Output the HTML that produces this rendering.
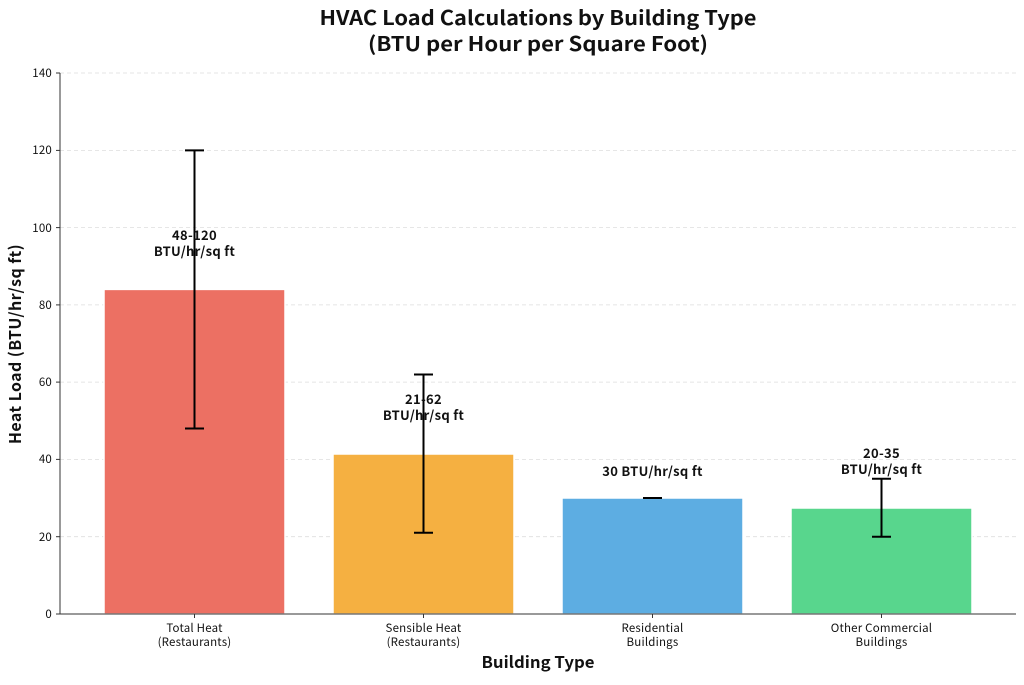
<!DOCTYPE html>
<html><head><meta charset="utf-8"><style>
body{margin:0;background:#fff;}
svg text{font-family:"Noto Sans CJK SC","DejaVu Sans","Liberation Sans",sans-serif;fill:#111;}
</style></head><body>
<svg width="1024" height="680" viewBox="0 0 1024 680" xmlns="http://www.w3.org/2000/svg">
<text x="538" y="25" font-size="20" font-weight="bold" text-anchor="middle" textLength="437" lengthAdjust="spacingAndGlyphs">HVAC Load Calculations by Building Type</text>
<text x="538" y="51" font-size="20" font-weight="bold" text-anchor="middle" textLength="340" lengthAdjust="spacingAndGlyphs">(BTU per Hour per Square Foot)</text>
<g stroke="#ddd" stroke-dasharray="4,3" stroke-width="0.8">
<line x1="60" x2="1016" y1="73" y2="73"/><line x1="60" x2="1016" y1="150.4" y2="150.4"/>
<line x1="60" x2="1016" y1="227.6" y2="227.6"/><line x1="60" x2="1016" y1="304.9" y2="304.9"/>
<line x1="60" x2="1016" y1="382.1" y2="382.1"/><line x1="60" x2="1016" y1="459.4" y2="459.4"/>
<line x1="60" x2="1016" y1="536.7" y2="536.7"/>
</g>
<g stroke="#fff" stroke-width="1.5">
<rect x="104" y="289.4" width="181" height="324.6" fill="#ec7063"/>
<rect x="333" y="454" width="181" height="160" fill="#f5b041"/>
<rect x="562" y="498" width="181" height="116" fill="#5dade2"/>
<rect x="791" y="508" width="181" height="106" fill="#58d68d"/>
</g>
<g stroke="#000" stroke-width="2">
<line x1="194.5" x2="194.5" y1="150.4" y2="428.5"/><line x1="185" x2="204" y1="150.4" y2="150.4"/><line x1="185" x2="204" y1="428.5" y2="428.5"/>
<line x1="423.5" x2="423.5" y1="374.5" y2="532.8"/><line x1="414" x2="433" y1="374.5" y2="374.5"/><line x1="414" x2="433" y1="532.8" y2="532.8"/>
<line x1="643" x2="662" y1="498" y2="498"/>
<line x1="881.5" x2="881.5" y1="478.8" y2="536.7"/><line x1="872" x2="891" y1="478.8" y2="478.8"/><line x1="872" x2="891" y1="536.7" y2="536.7"/>
</g>
<g font-size="13" font-weight="bold" text-anchor="middle" letter-spacing="0.3">
<text x="194.5" y="240">48-120</text><text x="194.5" y="256">BTU/hr/sq ft</text>
<text x="423.5" y="404">21-62</text><text x="423.5" y="420">BTU/hr/sq ft</text>
<text x="652.5" y="476">30 BTU/hr/sq ft</text>
<text x="881.5" y="458">20-35</text><text x="881.5" y="474">BTU/hr/sq ft</text>
</g>
<g stroke="#333" stroke-width="1">
<line x1="60" x2="60" y1="73" y2="614"/><line x1="60" x2="1016" y1="614" y2="614"/>
<line x1="56" x2="60" y1="73" y2="73"/><line x1="56" x2="60" y1="150.4" y2="150.4"/><line x1="56" x2="60" y1="227.6" y2="227.6"/>
<line x1="56" x2="60" y1="304.9" y2="304.9"/><line x1="56" x2="60" y1="382.1" y2="382.1"/><line x1="56" x2="60" y1="459.4" y2="459.4"/>
<line x1="56" x2="60" y1="536.7" y2="536.7"/><line x1="56" x2="60" y1="614" y2="614"/>
<line x1="194.5" x2="194.5" y1="614" y2="618"/><line x1="423.5" x2="423.5" y1="614" y2="618"/><line x1="652.5" x2="652.5" y1="614" y2="618"/><line x1="881.5" x2="881.5" y1="614" y2="618"/>
</g>
<g font-size="11.5" text-anchor="end" letter-spacing="0.2">
<text x="52" y="77">140</text><text x="52" y="154">120</text><text x="52" y="232">100</text><text x="52" y="309">80</text>
<text x="52" y="386">60</text><text x="52" y="463">40</text><text x="52" y="541">20</text><text x="52" y="618">0</text>
</g>
<g font-size="11.5" text-anchor="middle" letter-spacing="0.2">
<text x="194.5" y="632">Total Heat</text><text x="194.5" y="646">(Restaurants)</text>
<text x="423.5" y="632">Sensible Heat</text><text x="423.5" y="646">(Restaurants)</text>
<text x="652.5" y="632">Residential</text><text x="652.5" y="646">Buildings</text>
<text x="881.5" y="632">Other Commercial</text><text x="881.5" y="646">Buildings</text>
</g>
<text x="538" y="668" font-size="16" font-weight="bold" text-anchor="middle" textLength="113" lengthAdjust="spacingAndGlyphs">Building Type</text>
<text transform="translate(21,344) rotate(-90)" font-size="16" font-weight="bold" text-anchor="middle" letter-spacing="0.4">Heat Load (BTU/hr/sq ft)</text>
</svg>
</body></html>
